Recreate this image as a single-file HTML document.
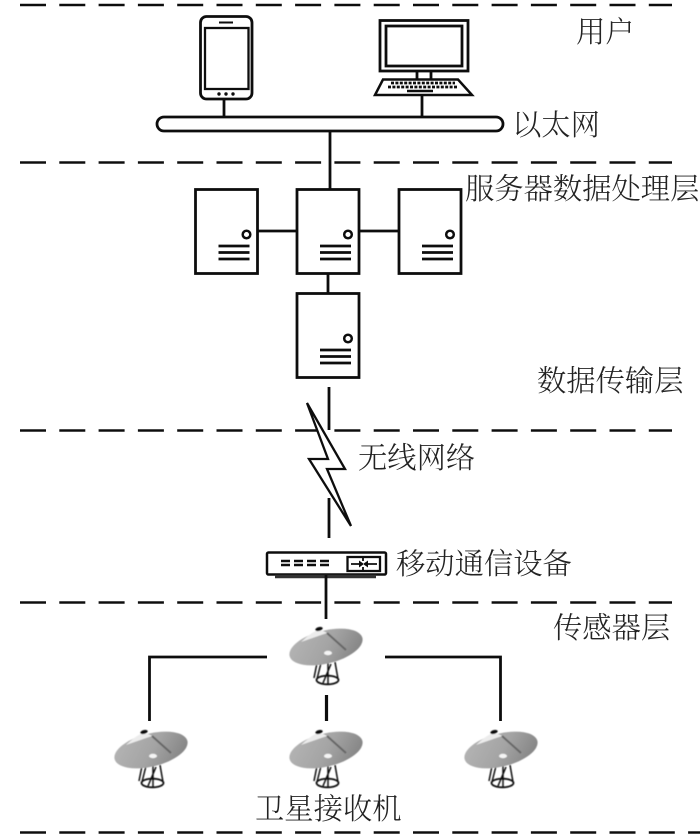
<!DOCTYPE html>
<html lang="zh">
<head>
<meta charset="utf-8">
<style>
html,body{margin:0;padding:0;background:#fff;width:700px;height:836px;overflow:hidden}
svg{display:block}
text{font-family:"Liberation Serif","Noto Serif CJK SC",serif;font-size:29.3px;fill:#222;font-weight:300}
.l{stroke:#111;fill:none;stroke-width:2.8}
</style>
</head>
<body>
<svg width="700" height="836" viewBox="0 0 700 836" xmlns="http://www.w3.org/2000/svg">
<defs>
<filter id="b" x="-5%" y="-5%" width="110%" height="110%"><feGaussianBlur stdDeviation="0.35"/></filter>
<filter id="b2" x="-10%" y="-10%" width="120%" height="120%"><feGaussianBlur stdDeviation="0.6"/></filter>
<linearGradient id="g" x1="0" y1="0.2" x2="1" y2="0.6">
<stop offset="0" stop-color="#b4b4b4"/><stop offset="0.55" stop-color="#a4a4a4"/><stop offset="1" stop-color="#868686"/>
</linearGradient>
<g id="srv">
<rect x="0" y="0" width="62" height="84" fill="#fff" stroke="#111" stroke-width="2.8"/>
<circle cx="51" cy="45" r="3.8" fill="#fff" stroke="#111" stroke-width="2.5"/>
<path d="M23 56.500H54M23 63H54M23 69.500H54" stroke="#111" stroke-width="2.800"/>
</g>
<g id="dish" filter="url(#b2)">
<path d="M-9 18L-12 33M9 17L12 34M-5 18L-9 34M5 19L-3 38M2 18L2 39" stroke="#111" stroke-width="1.500" fill="none"/>
<ellipse cx="1.500" cy="35" rx="11" ry="4.300" fill="none" stroke="#111" stroke-width="1.800"/>
<ellipse cx="0" cy="2" rx="37.500" ry="16.500" transform="rotate(-14 0 2)" fill="url(#g)"/>
<path d="M-9 -15Q-3 -15 1 -12L-25 -3Q-18 -10 -9 -15Z" fill="#ececec"/>
<path d="M1 -12L20 5" stroke="#666" stroke-width="2"/>
<ellipse cx="-7" cy="-16" rx="3.800" ry="2" fill="#111" transform="rotate(-15 -7 -16)"/>
<ellipse cx="2" cy="8" rx="4" ry="2.200" fill="#f4f4f4"/>
</g>
</defs>

<g filter="url(#b)">
<!-- dashed layers -->
<g stroke="#111" stroke-width="2.600" stroke-dasharray="26 13.300" fill="none">
<path d="M20 5H672"/>
<path d="M20 162.500H672"/>
<path d="M20 430.500H672"/>
<path d="M20 602.500H672"/>
<path d="M20 832.500H700"/>
</g>

<!-- phone -->
<rect x="200.500" y="16.500" width="51.500" height="82.500" rx="6" fill="#fff" stroke="#111" stroke-width="2.800"/>
<rect x="205" y="28" width="43.500" height="61" fill="#fff" stroke="#111" stroke-width="2.300"/>
<path d="M219 22.500H233" stroke="#111" stroke-width="2"/>
<circle cx="219" cy="94" r="1.700" fill="#111"/><circle cx="226" cy="94" r="1.700" fill="#111"/><circle cx="233" cy="94" r="1.700" fill="#111"/>
<path class="l" d="M224 99V118"/>

<!-- computer -->
<rect x="380" y="20.500" width="88" height="50.500" fill="#fff" stroke="#111" stroke-width="2.800"/>
<rect x="386" y="26" width="76" height="40" fill="#fff" stroke="#111" stroke-width="2.800"/>
<path class="l" d="M417 71V79M431 71V79"/>
<path d="M383 79.500H458L472 95H375Z" fill="#fff" stroke="#111" stroke-width="2.500"/>
<path d="M391 83H455M388 87H458" stroke="#111" stroke-width="2.800" stroke-dasharray="3 1.400"/>
<path d="M407 91H433" stroke="#111" stroke-width="2.400"/>
<path class="l" d="M422 95V118"/>

<!-- ethernet -->
<rect x="157" y="117" width="346" height="14" rx="7" fill="#fff" stroke="#111" stroke-width="2.800"/>
<path class="l" d="M330 131V189"/>

<!-- servers -->
<path class="l" d="M258 231H297M359 231H399M328 273V293"/>
<use href="#srv" x="195.500" y="189.500"/>
<use href="#srv" x="297" y="189.500"/>
<use href="#srv" x="399" y="189.500"/>
<use href="#srv" x="297" y="293.500"/>

<!-- wireless -->
<path class="l" d="M329 387V430M329 498V538"/>
<path d="M307 403L345 469H327L351 526L309 459H328Z" fill="#fff" stroke="#111" stroke-width="2.300"/>

<!-- device -->
<rect x="267" y="552.500" width="119" height="22" rx="1.500" fill="#fff" stroke="#111" stroke-width="2.500"/>
<path d="M275 576.500H376" stroke="#333" stroke-width="3.500"/>
<path d="M281 561H329M281 565H329" stroke="#111" stroke-width="2.400" stroke-dasharray="9 4"/>
<rect x="347.500" y="557" width="32.500" height="14" fill="#fff" stroke="#111" stroke-width="2.300"/>
<path d="M351 564H360M367 564H377M363 557V561M363 567V571" stroke="#111" stroke-width="1.800"/>
<path d="M359 560.500L364 564L359 567.500ZM368 560.500L363 564L368 567.500Z" fill="#111"/>
<path class="l" d="M326 575V619"/>

<!-- receivers connectors -->
<path class="l" d="M267 657H149.500V721M385 657H500.500V721"/>
<path d="M326.500 695V721" stroke="#111" stroke-width="3.200"/>

<!-- labels -->
<text x="576" y="42">用户</text>
<text x="512" y="135">以太网</text>
<text x="465" y="199">服务器数据处理层</text>
<text x="537" y="391">数据传输层</text>
<text x="358" y="468">无线网络</text>
<text x="396" y="574">移动通信设备</text>
<text x="553" y="638">传感器层</text>
<text x="255" y="819">卫星接收机</text>
</g>

<use href="#dish" x="326" y="645"/>
<use href="#dish" x="151" y="748"/>
<use href="#dish" x="326" y="748"/>
<use href="#dish" x="501" y="748"/>
</svg>
</body>
</html>
